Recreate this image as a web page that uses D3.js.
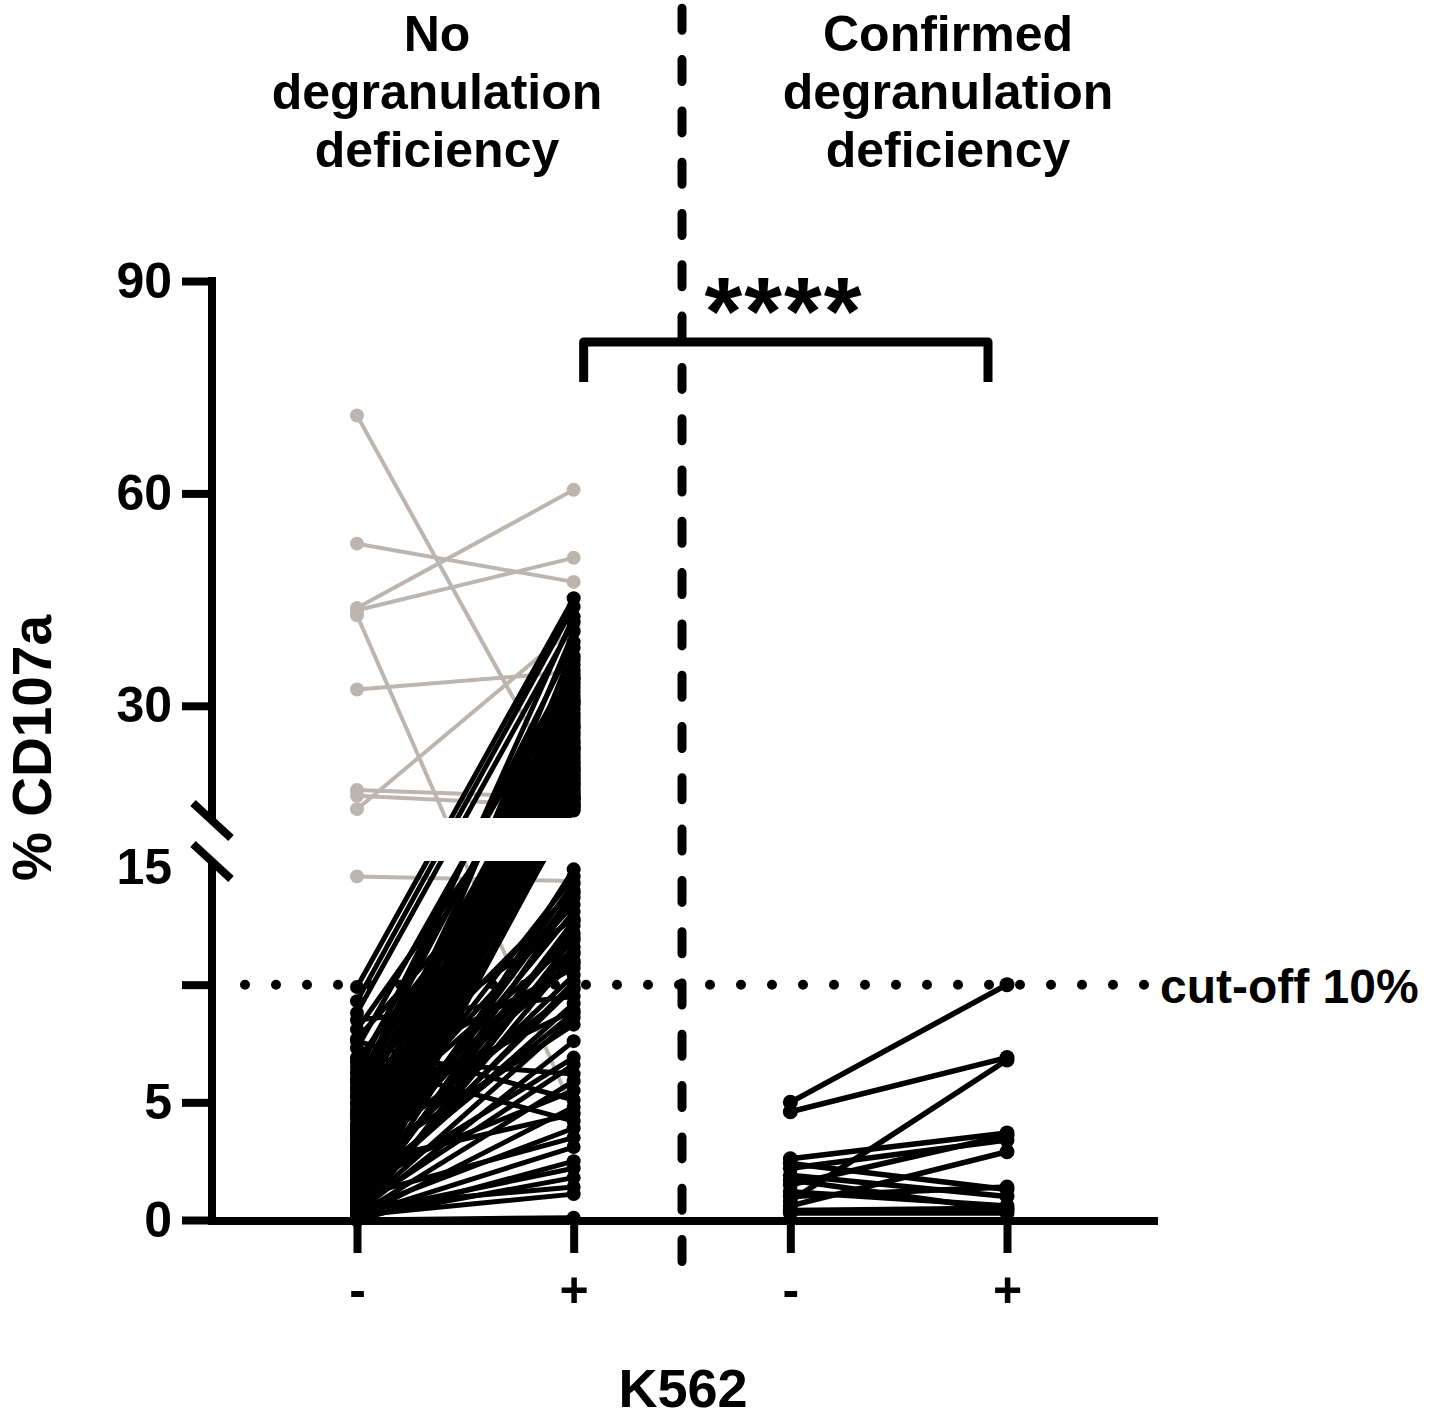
<!DOCTYPE html>
<html><head><meta charset="utf-8">
<script src="https://cdn.jsdelivr.net/npm/d3@7"></script>
<style>
body{margin:0;background:#fff}
svg{display:block}
text{font-family:"Liberation Sans",Arial,Helvetica,sans-serif;font-weight:bold;fill:#000}
</style>
</head><body>
<svg id="c" width="1446" height="1421"></svg>
<script>
// ---------- DATA ----------
const categories = ["noDef_minus", "noDef_plus", "def_minus", "def_plus"];
const tickLabels = ["-", "+", "-", "+"];
const groupTitleLeft = ["No", "degranulation", "deficiency"];
const groupTitleRight = ["Confirmed", "degranulation", "deficiency"];
const yLabel = "% CD107a";
const xLabel = "K562";
const cutoffValue = 10;
const cutoffLabel = "cut-off 10%";
const significance = "****";
const upperTicks = [30, 60, 90];
const lowerTicks = [0, 5, 10, 15];
const lowerTickText = ["0", "5", "", "15"];

// No degranulation deficiency – grey (high background) donors
const greyBefore = [71.0, 52.9, 43.8, 43.5, 42.8, 32.3, 18.1, 17.3, 15.4, 14.6];
const greyAfter  = [15.7, 47.5, 60.5, 50.9, 4.6, 34.8, 17.0, 15.8, 41.0, 14.4];

// No degranulation deficiency – black donors
const blackBefore = [
  9.9, 9.3, 5.2, 8.8, 3.1, 6.2, 1.4, 4.4, 0.6, 7.3,
  2.3, 5.8, 0.9, 3.6, 1.9, 6.5, 0.3, 4.9, 2.7, 1.1,
  5.5, 0.5, 3.3, 8.1, 1.6, 4.1, 0.2, 2.9, 6.0, 1.3,
  3.8, 0.7, 2.1, 5.0, 0.4, 3.0, 1.8, 4.6, 0.8, 2.5,
  6.8, 1.2, 3.5, 0.1, 2.2, 4.3, 1.0, 5.6, 0.6, 2.6,
  1.5, 3.9, 1.7, 0.4, 2.4, 5.3, 0.9, 3.2, 7.7, 1.1,
  0.5, 2.8, 1.4, 4.7, 0.3, 3.4, 1.9, 6.3, 0.8, 2.0,
  4.0, 1.2, 0.2, 3.7, 5.9, 1.6, 0.7, 2.6, 8.5, 1.0,
  4.5, 0.4, 2.3, 1.5, 0.1, 3.0, 0.9, 1.3, 0.6, 2.8,
  0.3, 1.2, 0.5, 6.9, 0.2, 1.8, 7.6, 0.1, 2.4, 6.7,
  0.4, 1.0, 0.2, 0.0, 0.3, 0.1, 0.6, 0.2, 0.0
];
const blackAfter = [
  45.2, 44.0, 42.6, 41.8, 40.5, 39.0, 38.2, 37.0, 36.5, 35.8,
  35.1, 34.5, 33.8, 33.2, 32.6, 32.0, 31.4, 30.8, 30.2, 29.6,
  29.0, 28.5, 28.0, 27.4, 26.9, 26.3, 25.8, 25.2, 24.7, 24.1,
  23.6, 23.1, 22.6, 22.1, 21.7, 21.2, 20.8, 20.3, 19.9, 19.5,
  19.1, 18.7, 18.3, 17.9, 17.5, 17.2, 16.8, 16.5, 16.1, 15.8,
  15.5, 15.2, 34.0, 30.5, 27.0, 24.0, 21.0, 19.0, 17.0, 16.0,
  14.9, 14.6, 14.3, 14.0, 13.7, 13.4, 13.1, 12.8, 12.5, 12.2,
  11.9, 11.6, 11.3, 11.0, 10.7, 10.4, 10.1, 9.8, 9.5, 9.2,
  8.9, 8.6, 8.3, 13.9, 12.0, 10.9, 9.9, 8.8, 12.7, 11.4,
  7.6, 6.9, 6.6, 6.2, 5.9, 5.5, 5.1, 4.8, 4.5, 4.2,
  3.9, 3.5, 3.1, 2.5, 2.2, 1.8, 1.4, 1.1, 0.1
];

// Confirmed degranulation deficiency
const confBefore = [5.0, 4.6, 0.8, 2.6, 2.2, 1.5, 0.6, 2.4, 1.9, 1.2, 0.4, 1.0, 0.3, 1.7];
const confAfter  = [10.0, 6.9, 6.8, 3.7, 3.4, 3.6, 2.9, 1.3, 1.0, 0.6, 0.5, 1.4, 0.3, 0.4];

// ---------- SCALES ----------
const svg = d3.select("#c");
const x = d3.scalePoint().domain(categories).range([357, 1007]);
const yLow = d3.scaleLinear().domain([0, 15]).range([1220, 867]);
const yHigh = d3.scaleLinear().domain([15, 90]).range([812, 281]);
const y = v => (v <= 15 ? yLow(v) : yHigh(v));

const axisX = 212, axisY = 1221;
const GREY = "#bdb6b0";

// clip: two axis segments
const defs = svg.append("defs");
const cp = defs.append("clipPath").attr("id", "segs");
cp.append("rect").attr("x", 0).attr("y", 0).attr("width", 1446).attr("height", 818);
cp.append("rect").attr("x", 0).attr("y", 861).attr("width", 1446).attr("height", 560);

const data = svg.append("g").attr("clip-path", "url(#segs)");

function pairs(before, after, c0, c1) {
  const n = Math.min(before.length, after.length);
  return d3.range(n).map(i => ({ a: before[i], b: after[i], c0, c1 }));
}
function drawSet(ps, color, lw, r) {
  data.append("g").selectAll("line").data(ps).join("line")
    .attr("x1", d => x(d.c0)).attr("y1", d => y(d.a))
    .attr("x2", d => x(d.c1)).attr("y2", d => y(d.b))
    .attr("stroke", color).attr("stroke-width", lw).attr("stroke-linecap", "round");
  const pts = [];
  ps.forEach(d => { pts.push([d.c0, d.a]); pts.push([d.c1, d.b]); });
  data.append("g").selectAll("circle").data(pts).join("circle")
    .attr("cx", d => x(d[0])).attr("cy", d => y(d[1])).attr("r", r).attr("fill", color);
}
drawSet(pairs(greyBefore, greyAfter, categories[0], categories[1]), GREY, 4, 7);
drawSet(pairs(blackBefore, blackAfter, categories[0], categories[1]), "#000", 5, 7);
drawSet(pairs(confBefore, confAfter, categories[2], categories[3]), "#000", 5.5, 7.5);

// ---------- AXES ----------
const axG = svg.append("g");
// y axis lines (broken)
axG.append("line").attr("x1", axisX).attr("x2", axisX).attr("y1", yHigh(90) - 4).attr("y2", 821)
  .attr("stroke", "#000").attr("stroke-width", 8);
axG.append("line").attr("x1", axisX).attr("x2", axisX).attr("y1", 860).attr("y2", axisY + 4)
  .attr("stroke", "#000").attr("stroke-width", 8);
// break marks
[[193, 803, 231, 838], [193, 844, 231, 879]].forEach(s => {
  axG.append("line").attr("x1", s[0]).attr("y1", s[1]).attr("x2", s[2]).attr("y2", s[3])
    .attr("stroke", "#000").attr("stroke-width", 8);
});
// x axis line
axG.append("line").attr("x1", axisX - 4).attr("x2", 1158).attr("y1", axisY).attr("y2", axisY)
  .attr("stroke", "#000").attr("stroke-width", 8);

function styleAxis(g) {
  g.select(".domain").remove();
  g.selectAll(".tick line").attr("stroke", "#000").attr("stroke-width", 8);
  g.selectAll(".tick text").attr("font-size", 50).attr("font-weight", "bold")
    .attr("font-family", "'Liberation Sans', Arial, sans-serif").attr("fill", "#000");
}
const yUp = svg.append("g").attr("transform", `translate(${axisX},0)`)
  .call(d3.axisLeft(yHigh).tickValues(upperTicks).tickSize(30).tickPadding(10).tickFormat(d3.format("d")));
styleAxis(yUp);
const yLo = svg.append("g").attr("transform", `translate(${axisX},0)`)
  .call(d3.axisLeft(yLow).tickValues(lowerTicks).tickSize(30).tickPadding(10)
    .tickFormat((d, i) => lowerTickText[i]));
styleAxis(yLo);
yLo.selectAll(".tick").filter(d => d === 15).select("line").remove();

const xAx = svg.append("g").attr("transform", `translate(0,${axisY})`)
  .call(d3.axisBottom(x).tickSize(32).tickPadding(18).tickFormat((d, i) => tickLabels[i]));
styleAxis(xAx);

// ---------- REFERENCE LINES ----------
svg.append("line").attr("x1", 245).attr("x2", 1145).attr("y1", yLow(cutoffValue)).attr("y2", yLow(cutoffValue))
  .attr("stroke", "#000").attr("stroke-width", 10).attr("stroke-linecap", "round")
  .attr("stroke-dasharray", "0 31");
svg.append("text").attr("x", 1160).attr("y", yLow(cutoffValue) + 18).attr("font-size", 48).text(cutoffLabel);

const midX = (x(categories[1]) + x(categories[2])) / 2;
svg.append("line").attr("x1", midX).attr("x2", midX).attr("y1", 1261.5).attr("y2", 0)
  .attr("stroke", "#000").attr("stroke-width", 9).attr("stroke-linecap", "round")
  .attr("stroke-dasharray", "22 29.3");

// significance bracket
svg.append("path")
  .attr("d", `M${x(categories[1]) + 10},382 V342 H${x(categories[3]) - 19} V382`)
  .attr("fill", "none").attr("stroke", "#000").attr("stroke-width", 9).attr("stroke-linejoin", "round");
svg.append("text").attr("x", 784).attr("y", 345).attr("text-anchor", "middle")
  .attr("font-size", 97).attr("letter-spacing", 2).text(significance);

// ---------- TITLES ----------
function title(lines, cx) {
  lines.forEach((t, i) => {
    svg.append("text").attr("x", cx).attr("y", 51 + i * 58).attr("text-anchor", "middle")
      .attr("font-size", 50).text(t);
  });
}
title(groupTitleLeft, 437);
title(groupTitleRight, 948);

svg.append("text").attr("transform", "translate(51,748) rotate(-90)").attr("text-anchor", "middle")
  .attr("font-size", 55).text(yLabel);
svg.append("text").attr("x", 683).attr("y", 1407).attr("text-anchor", "middle")
  .attr("font-size", 54).text(xLabel);
</script>
</body></html>
